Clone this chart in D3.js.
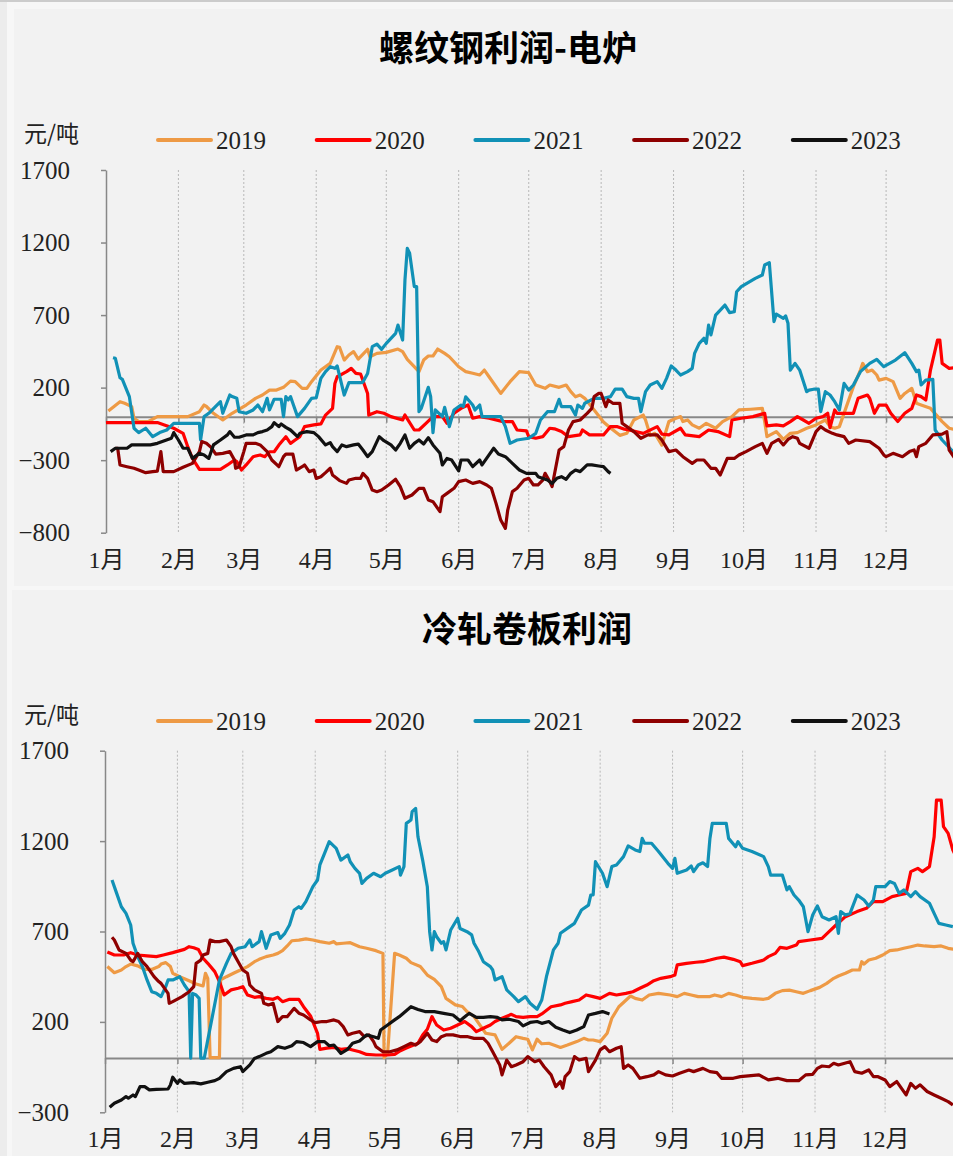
<!DOCTYPE html>
<html>
<head>
<meta charset="utf-8">
<script src="https://cdn.jsdelivr.net/npm/d3@7"></script>
<style>
  body { margin: 0; background: #f7f7f7; }
  svg { display: block; }
</style>
</head>
<body>
<div id="chart"></div>
<script>
// years, colours, labels
var years = ["2019", "2020", "2021", "2022", "2023"];
var colors = ["#EE9A45", "#FF0000", "#1191B6", "#8E0000", "#111111"];
var months = ["1月", "2月", "3月", "4月", "5月", "6月", "7月", "8月", "9月", "10月", "11月", "12月"];
var rebarTicks = [-800, -300, 200, 700, 1200, 1700];
var coldTicks = [-300, 200, 700, 1200, 1700];

// 螺纹钢利润-电炉, [day of year, 元/吨]
var rebar2019 = [[1,39],[6,103],[8,92],[11,69],[12,-11],[14,-34],[18,-34],[22,0],[35,0],[40,34],[42,80],[43,70],[46,23],[50,-23],[54,23],[60,80],[64,126],[67,149],[70,183],[73,183],[76,202],[79,245],[81,241],[84,195],[86,195],[88,241],[92,321],[96,367],[99,482],[100,478],[102,390],[104,425],[106,448],[108,397],[112,464],[113,413],[116,436],[120,443],[125,466],[127,448],[129,395],[134,310],[136,390],[138,418],[140,418],[142,466],[145,436],[147,413],[151,344],[154,310],[157,299],[160,287],[162,321],[164,275],[169,160],[173,241],[177,310],[181,303],[184,218],[188,195],[190,218],[194,202],[197,218],[199,172],[201,137],[203,149],[205,126],[209,46],[213,-37],[216,-78],[220,-129],[223,-115],[226,-23],[230,11],[231,-23],[233,-129],[235,-115],[238,-196],[241,-34],[244,-11],[246,0],[247,-34],[249,-23],[251,-57],[254,-80],[257,-46],[261,-80],[264,-34],[268,0],[271,46],[276,51],[281,57],[282,-34],[283,-138],[287,-103],[290,-157],[293,-115],[296,-110],[300,-80],[304,-57],[308,-23],[310,-69],[312,-80],[314,-69],[317,69],[320,206],[323,321],[324,367],[326,310],[328,321],[330,287],[331,252],[334,264],[337,241],[340,126],[342,160],[345,195],[347,92],[349,80],[353,57],[358,-34],[361,-80],[364,-92]];
var rebar2020 = [[0,-41],[22,-41],[25,-57],[29,-80],[33,-115],[35,-207],[37,-288],[40,-363],[49,-363],[52,-333],[55,-299],[56,-310],[58,-368],[60,-333],[63,-276],[66,-264],[68,-276],[70,-242],[72,-242],[74,-196],[77,-138],[79,-184],[81,-161],[83,-138],[85,-69],[89,-57],[92,-50],[94,11],[97,57],[98,229],[99,275],[103,310],[105,333],[107,298],[109,294],[112,160],[112.5,11],[116,34],[119,23],[122,0],[127,-23],[128,11],[132,-92],[134,-92],[137,-46],[140,0],[144,0],[146,-46],[149,23],[152,57],[155,80],[157,-11],[160,0],[164,-11],[170,-34],[174,-34],[176,-92],[180,-98],[181,-138],[184,-149],[187,-138],[190,-80],[192,-84],[195,-103],[198,-138],[203,-126],[204,-92],[207,-126],[213,-126],[216,-69],[219,-69],[222,-87],[224,-92],[230,-115],[236,-69],[238,-120],[241,-126],[246,-80],[248,-126],[254,-138],[258,-92],[262,-103],[267,-138],[268,-23],[272,-11],[277,0],[282,23],[283,-64],[287,-57],[290,-64],[293,-34],[296,0],[298,-18],[301,-46],[304,-11],[307,0],[309,23],[310,-76],[312,46],[313,23],[320,23],[322,126],[326,149],[327,126],[329,23],[331,80],[334,80],[336,23],[339,-34],[342,23],[345,57],[347,149],[349,138],[351,115],[353,321],[356,528],[357,528],[358,367],[361,333],[365,340]];
var rebar2021 = [[3,406],[4,402],[6,268],[7,257],[10,138],[12,-80],[14,-110],[17,-80],[20,-138],[23,-110],[26,-92],[29,-46],[34,-46],[40,-46],[40.5,-161],[42,0],[44,23],[49,103],[50,23],[53,149],[54,138],[56,126],[57,34],[60,23],[63,46],[65,80],[67,34],[69,126],[70,46],[72,120],[75,120],[76,0],[77,138],[78,115],[79,138],[80,92],[82,0],[85,57],[88,126],[90,130],[92,264],[94,310],[96,344],[98,333],[99,349],[102,149],[104,234],[106,234],[109,234],[110,238],[112,298],[114,482],[116,500],[118,464],[120,505],[124,574],[125,631],[127,528],[128,942],[129,1160],[130,1126],[132,896],[133,896],[134,34],[135,57],[138,202],[139,138],[140,-110],[141,46],[144,0],[145,64],[147,-69],[149,46],[152,80],[153,69],[154,137],[157,80],[158,46],[160,80],[161,0],[163,0],[169,0],[171,-69],[173,-184],[176,-161],[181,-149],[184,-115],[186,-23],[189,34],[192,34],[194,119],[195,69],[199,69],[201,11],[202,80],[204,57],[205,92],[209,126],[213,126],[216,138],[218,189],[221,189],[223,138],[226,126],[228,126],[229,34],[231,172],[233,218],[236,241],[238,195],[240,264],[242,349],[244,321],[246,287],[249,310],[251,333],[252,436],[254,505],[256,540],[257,505],[258,631],[259,563],[261,700],[265,769],[267,717],[269,723],[270,861],[272,896],[278,953],[281,976],[282,1045],[284,1061],[286,655],[287,707],[290,678],[291,694],[292,643],[293,321],[295,367],[297,321],[300,172],[301,183],[303,189],[305,189],[306,34],[308,172],[310,149],[312,103],[314,46],[316,229],[318,183],[320,218],[323,310],[327,367],[330,395],[333,344],[338,390],[342,441],[345,367],[347,310],[348,321],[349,218],[351,252],[354,257],[355,-92],[358,-161],[362,-230],[365,-280]];
var rebar2022 = [[4,-218],[5,-218],[6,-333],[9,-345],[12,-356],[14,-368],[17,-386],[20,-379],[22,-375],[23.5,-241],[24.5,-379],[29,-379],[33,-349],[37,-322],[40,-241],[41,-172],[43,-184],[45,-212],[47,-258],[50,-253],[53,-241],[55,-299],[55.5,-356],[57,-345],[59,-241],[60,-184],[64,-184],[66,-195],[69,-241],[71,-299],[74,-345],[76,-276],[77,-258],[80,-258],[81.5,-368],[84,-345],[85,-333],[87,-379],[89,-368],[90,-426],[92,-414],[94,-386],[96,-356],[97,-402],[100,-441],[103,-460],[104,-437],[107,-425],[109,-425],[110,-391],[112,-425],[114,-506],[116,-517],[118,-506],[121,-471],[124,-432],[126,-483],[128,-563],[131,-540],[134,-494],[136,-494],[138,-574],[140,-586],[143,-655],[144,-552],[146,-529],[149,-494],[151,-448],[154,-437],[157,-460],[160,-448],[163,-471],[165,-494],[167,-598],[169,-713],[171,-770],[172,-644],[174,-517],[176,-494],[179,-437],[181,-425],[183,-471],[185,-471],[187,-437],[188,-391],[190,-448],[191,-482],[194,-230],[196,-207],[198,-92],[200,-34],[203,-23],[206,23],[208,57],[209,138],[211,160],[212,160],[214,69],[215,115],[217,92],[220,92],[221,-46],[223,-69],[226,-103],[229,-149],[232,-126],[236,-126],[238,-161],[241,-241],[244,-230],[247,-276],[251,-322],[253,-299],[256,-299],[259,-356],[261,-356],[263,-402],[266,-288],[269,-288],[271,-264],[274,-241],[278,-207],[281,-184],[283,-253],[285,-184],[288,-157],[290,-195],[292,-157],[294,-138],[296,-149],[297,-184],[301,-218],[304,-103],[306,-69],[308,-92],[311,-115],[313,-126],[316,-138],[318,-184],[321,-161],[327,-172],[331,-218],[333,-264],[334,-276],[337,-253],[341,-276],[344,-241],[346,-230],[347,-276],[348,-207],[351,-184],[354,-126],[358,-120],[360,-103],[361,-230],[364,-300]];
var rebar2023 = [[2,-241],[4,-218],[9,-218],[11,-195],[19,-195],[22,-184],[25,-166],[28,-149],[29,-110],[31,-161],[33,-218],[35,-218],[37,-288],[40,-253],[42,-264],[44,-288],[46,-195],[49,-161],[52,-126],[53,-103],[55,-142],[57,-142],[60,-126],[63,-126],[65,-110],[67,-103],[69,-92],[71,-69],[72,-41],[74,-69],[75,-51],[77,-74],[79,-92],[82,-138],[83,-115],[86,-103],[89,-110],[91,-138],[94,-195],[96,-179],[97,-207],[99,-241],[101,-195],[103,-207],[106,-195],[108,-189],[110,-230],[112,-276],[114,-241],[117,-138],[119,-166],[122,-195],[124,-230],[126,-184],[128,-126],[130,-218],[132,-184],[134,-161],[136,-189],[138,-145],[140,-195],[143,-253],[144,-333],[146,-288],[148,-299],[151,-374],[152,-299],[155,-299],[157,-345],[160,-299],[161,-333],[164,-264],[166,-218],[168,-258],[171,-276],[174,-322],[177,-368],[180,-391],[184,-391],[185,-414],[189,-437],[191,-460],[193,-425],[195,-414],[197,-432],[199,-391],[201,-368],[203,-379],[206,-333],[208,-333],[211,-340],[213,-345],[215,-379],[216,-391]];

// 冷轧卷板利润, [day of year, 元/吨]
var cold2019 = [[1,506],[4,472],[7,487],[9,506],[11,520],[14,510],[17,490],[20,490],[23,506],[24,520],[26,528],[28,506],[29,469],[32,450],[36,428],[39,410],[42,399],[43,469],[44,441],[45,2],[49,2],[49.5,432],[52,450],[55,469],[58,487],[61,506],[64,533],[66,546],[69,561],[72,570],[74,579],[76,594],[78,620],[80,649],[83,652],[86,659],[89,653],[92,644],[96,635],[98,644],[99,632],[102,635],[105,638],[109,616],[112,607],[116,594],[119,579],[119.5,2],[121,26],[124,579],[126,570],[129,552],[131,528],[135,506],[138,459],[141,435],[144,395],[146,330],[150,294],[153,285],[155,257],[158,230],[160,192],[163,137],[167,128],[170,48],[173,82],[176,118],[179,109],[181,104],[183,45],[185,104],[187,79],[190,82],[193,68],[195,59],[198,72],[202,91],[205,109],[207,100],[209,100],[212,91],[215,137],[217,220],[220,284],[225,343],[227,330],[230,321],[233,349],[237,358],[242,349],[245,340],[248,358],[251,349],[254,340],[259,340],[261,349],[264,340],[267,358],[270,349],[273,336],[277,330],[282,325],[284,330],[287,358],[290,373],[293,376],[296,367],[299,358],[302,373],[306,391],[309,413],[312,441],[314,454],[317,469],[320,487],[323,487],[324,533],[325,520],[327,542],[330,552],[333,570],[336,594],[339,598],[342,607],[345,616],[348,625],[351,620],[355,616],[358,620],[361,607],[364,600]];
var cold2020 = [[1,587],[4,570],[8,570],[11,583],[14,570],[18,565],[22,561],[25,570],[29,583],[34,601],[36,616],[38,610],[40,601],[42,552],[44,524],[47,478],[49,423],[51,349],[54,377],[57,386],[59,395],[61,349],[64,336],[66,340],[69,330],[72,325],[74,336],[76,312],[79,325],[83,325],[85,284],[88,233],[91,137],[92,48],[95,55],[98,59],[101,48],[104,52],[106,45],[109,35],[112,20],[116,17],[121,17],[124,20],[126,37],[129,55],[134,82],[136,128],[138,159],[140,229],[142,183],[145,155],[148,165],[151,183],[154,202],[157,174],[159,146],[162,165],[165,183],[167,202],[170,220],[174,242],[176,229],[179,225],[182,229],[185,229],[187,244],[191,284],[195,294],[197,303],[200,312],[203,321],[206,349],[209,340],[212,330],[216,358],[219,349],[223,358],[226,367],[229,386],[232,404],[235,428],[238,441],[242,450],[244,459],[245,515],[249,524],[253,530],[256,533],[259,542],[262,552],[265,558],[269,546],[272,533],[273,511],[277,524],[282,542],[284,561],[287,579],[289,612],[292,607],[296,625],[297,644],[302,653],[307,662],[310,699],[313,736],[317,782],[322,810],[326,828],[329,865],[333,865],[337,893],[340,902],[343,911],[345,1031],[348,1049],[350,1031],[353,1059],[355,1224],[356,1427],[358,1427],[359,1280],[361,1243],[363,1150],[365,1100]];
var cold2021 = [[3,985],[5,911],[7,837],[9,800],[11,736],[12,635],[14,561],[16,506],[18,432],[20,367],[22,358],[24,340],[26,395],[27,432],[29,432],[32,450],[34,404],[36,367],[36.7,0],[37.5,358],[39,349],[40.3,330],[41,0],[42.5,0],[49,432],[52,524],[54,579],[57,607],[60,616],[62,653],[63,616],[66,644],[67,699],[69,607],[71,681],[74,694],[75,662],[77,690],[79,736],[81,819],[83,837],[84,828],[86,865],[89,948],[91,985],[92,1068],[94,1132],[96,1197],[99,1160],[101,1095],[104,1123],[105,1086],[107,1049],[109,1022],[110,966],[112,994],[115,1022],[118,1003],[120,1022],[123,1040],[126,1059],[126.5,1012],[128,1059],[129,1298],[131,1317],[131.5,1363],[133,1381],[134,1224],[136,1095],[138,948],[139,699],[140,598],[141,699],[142,671],[144,635],[145,644],[146,598],[148,708],[151,773],[152,717],[155,699],[157,681],[158,635],[160,589],[162,533],[165,506],[166,487],[167,432],[170,450],[172,377],[175,340],[177,312],[180,340],[182,303],[185,270],[187,321],[189,450],[192,598],[194,635],[195,690],[199,727],[201,745],[204,819],[207,846],[208,902],[209,902],[210,1086],[213,1022],[215,948],[217,1059],[219,1068],[222,1114],[224,1173],[227,1151],[229,1142],[230,1215],[231,1188],[234,1188],[237,1142],[241,1077],[243,1049],[244,1105],[245,1022],[249,1040],[251,1062],[252,1031],[254,1068],[256,1080],[258,1059],[259,1215],[260,1298],[266,1298],[267,1215],[270,1169],[271,1197],[273,1160],[277,1142],[282,1114],[284,1059],[285,1012],[290,1012],[292,930],[293,948],[295,902],[297,874],[299,837],[301,699],[303,791],[305,841],[307,782],[310,764],[313,782],[314,690],[315,810],[317,791],[319,800],[322,902],[325,874],[327,841],[329,874],[330,948],[334,948],[336,976],[338,966],[340,911],[342,930],[345,893],[347,920],[349,893],[353,856],[355,800],[357,745],[360,736],[363,727]];
var cold2022 = [[3,668],[4,653],[6,598],[9,579],[11,542],[12,533],[14,579],[16,533],[18,506],[21,450],[23,423],[24,413],[27,358],[27.5,303],[29,312],[33,340],[36,367],[38,395],[39,524],[41,542],[42,570],[44,579],[45,653],[47,644],[49,644],[52,653],[54,616],[55,579],[57,533],[59,487],[61,469],[62,404],[64,377],[67,358],[68,303],[70,294],[72,303],[74,202],[76,229],[78,229],[81,275],[83,248],[85,238],[88,211],[90,196],[93,202],[95,202],[98,211],[100,202],[102,174],[104,128],[106,137],[109,146],[111,119],[113,128],[115,91],[116,63],[119,35],[122,35],[125,45],[128,63],[131,82],[133,72],[135,91],[138,137],[140,100],[142,91],[144,118],[146,128],[149,128],[152,119],[155,119],[158,109],[162,109],[164,82],[166,35],[169,-38],[170,-93],[172,-11],[174,-48],[176,-38],[179,-20],[181,8],[184,-20],[186,-11],[188,-48],[191,-93],[193,-158],[195,-130],[196,-167],[197,-103],[199,-75],[201,8],[203,-11],[206,-2],[207,-75],[210,-11],[212,45],[214,63],[216,35],[219,54],[221,63],[222,-57],[224,-38],[226,-57],[229,-112],[232,-103],[235,-93],[237,-75],[240,-93],[243,-99],[246,-84],[250,-66],[252,-75],[256,-57],[259,-75],[262,-81],[264,-112],[269,-112],[272,-103],[280,-93],[284,-121],[288,-112],[292,-125],[297,-125],[300,-93],[303,-90],[305,-57],[307,-44],[310,-48],[312,-29],[314,-38],[319,-20],[321,-75],[324,-84],[327,-66],[329,-103],[331,-103],[334,-121],[336,-158],[339,-130],[343,-204],[345,-140],[347,-167],[349,-148],[352,-185],[355,-204],[358,-222],[361,-241],[363,-259]];
var cold2023 = [[2,-272],[4,-250],[7,-232],[9,-213],[10,-222],[12,-204],[13,-213],[15,-158],[17,-158],[19,-176],[22,-173],[27,-171],[28,-149],[29,-106],[31,-140],[32,-121],[34,-140],[38,-136],[41,-143],[44,-134],[47,-125],[49,-112],[52,-75],[55,-57],[58,-48],[59,-75],[62,-38],[64,-2],[66,8],[69,26],[71,35],[74,63],[77,54],[80,68],[82,91],[85,86],[88,63],[91,91],[94,91],[96,68],[98,72],[101,26],[104,50],[106,82],[109,94],[112,128],[115,118],[117,109],[118,155],[121,183],[124,211],[126,229],[131,284],[134,269],[137,257],[141,257],[145,247],[149,238],[152,207],[155,238],[156,247],[159,225],[162,225],[165,229],[168,225],[170,211],[173,215],[177,202],[179,178],[182,197],[185,202],[187,192],[190,202],[193,170],[196,155],[199,141],[202,155],[205,174],[207,238],[210,247],[213,257],[216,244]];

var W = 953, H = 1156;
var base = new Date(2021, 0, 1), yearEnd = new Date(2022, 0, 1);
var monthDates = d3.timeMonth.range(base, yearEnd);
var numFont = '"Liberation Serif", "Noto Sans CJK SC", serif';

var svg = d3.select('#chart').append('svg')
    .attr('width', W)
    .attr('height', H);

// outer frame strips
svg.append('rect').attr('x', 0).attr('y', 0).attr('width', 7).attr('height', H).attr('fill', '#ececec');
svg.append('rect').attr('x', 0).attr('y', 0).attr('width', W).attr('height', 2).attr('fill', '#cccccc');

function dayToDate(d) {
    return new Date(base.getTime() + d * 864e5);
}

var panels = [
    {title: '螺纹钢利润-电炉', titleX: 508, top: 9, bottom: 586, left: 14,
     series: [rebar2019, rebar2020, rebar2021, rebar2022, rebar2023],
     ticks: rebarTicks, yTop: 170, yBottom: 532.7, axisX: 106},
    {title: '冷轧卷板利润', titleX: 527, top: 590, bottom: H, left: 12,
     series: [cold2019, cold2020, cold2021, cold2022, cold2023],
     ticks: coldTicks, yTop: 750.7, yBottom: 1112.3, axisX: 105}
];

panels.forEach(function(p) {
    var g = svg.append('g');
    g.append('rect')
        .attr('x', p.left).attr('y', p.top)
        .attr('width', W - p.left).attr('height', p.bottom - p.top)
        .attr('fill', '#f2f2f2');

    var x = d3.scaleTime().domain([base, yearEnd]).range([p.axisX, p.axisX + 852.5]);
    var y = d3.scaleLinear().domain([p.ticks[0], p.ticks[p.ticks.length - 1]]).range([p.yBottom, p.yTop]);

    // title
    g.append('text')
        .attr('x', p.titleX).attr('y', p.top + 52)
        .attr('text-anchor', 'middle')
        .style('font-family', '"Noto Sans CJK SC", sans-serif')
        .style('font-size', '35px')
        .style('font-weight', 'bold')
        .attr('fill', '#000')
        .text(p.title);

    // unit
    g.append('text')
        .attr('x', 24).attr('y', p.top + 133)
        .style('font-family', '"Noto Sans CJK SC", sans-serif')
        .style('font-size', '23px')
        .attr('fill', '#222')
        .text('元/吨');

    // legend
    var legend = g.selectAll('.legendItem').data(years).enter().append('g')
        .attr('class', 'legendItem')
        .attr('transform', function(d, i) {
            return 'translate(' + (158 + i * 158.7) + ',' + (p.top + 131) + ')';
        });
    legend.append('line')
        .attr('x1', 0).attr('x2', 53).attr('y1', 0).attr('y2', 0)
        .attr('stroke', function(d, i) { return colors[i]; })
        .attr('stroke-width', 4)
        .attr('stroke-linecap', 'round');
    legend.append('text')
        .attr('x', 58).attr('y', 9)
        .style('font-family', numFont)
        .style('font-size', '25px')
        .attr('fill', '#222')
        .text(function(d) { return d; });

    // dotted month grid
    g.selectAll('.grid').data(monthDates.slice(1)).enter().append('line')
        .attr('x1', function(d) { return x(d); })
        .attr('x2', function(d) { return x(d); })
        .attr('y1', y.range()[1]).attr('y2', y.range()[0])
        .attr('stroke', '#b8b8b8')
        .attr('stroke-width', 1)
        .attr('stroke-dasharray', '2,2');

    // zero line with small month ticks
    var zeroAxis = g.append('g')
        .attr('transform', 'translate(0,' + y(0) + ')')
        .call(d3.axisBottom(x).tickValues(monthDates).tickSize(6).tickSizeOuter(0).tickFormat(''));
    zeroAxis.select('.domain').attr('stroke', '#888').attr('stroke-width', 2);
    zeroAxis.selectAll('.tick line').attr('stroke', '#888').attr('stroke-width', 1.5);

    // month labels
    var monthAxis = g.append('g')
        .attr('transform', 'translate(0,' + (p.yBottom + 15) + ')')
        .call(d3.axisBottom(x).tickValues(monthDates).tickSize(0)
            .tickFormat(function(d) { return months[d.getMonth()]; }));
    monthAxis.select('.domain').remove();
    monthAxis.selectAll('text')
        .style('font-family', numFont)
        .style('font-size', '24px')
        .attr('fill', '#222');

    // y axis
    var yAxis = g.append('g')
        .attr('transform', 'translate(' + p.axisX + ',0)')
        .call(d3.axisLeft(y).tickValues(p.ticks).tickSize(5).tickSizeOuter(0).tickPadding(31)
            .tickFormat(d3.format('d')));
    yAxis.select('.domain').attr('stroke', '#888').attr('stroke-width', 1.5);
    yAxis.selectAll('.tick line').attr('stroke', '#888').attr('stroke-width', 1.5);
    yAxis.selectAll('text')
        .style('font-family', numFont)
        .style('font-size', '25px')
        .attr('fill', '#222');

    // series lines
    var line = d3.line()
        .x(function(d) { return x(dayToDate(d[0])); })
        .y(function(d) { return y(d[1]); });
    g.selectAll('.series').data(p.series).enter().append('path')
        .attr('class', 'series')
        .attr('d', line)
        .attr('fill', 'none')
        .attr('stroke', function(d, i) { return colors[i]; })
        .attr('stroke-width', 3.2)
        .attr('stroke-linejoin', 'round');
});
</script>
</body>
</html>
